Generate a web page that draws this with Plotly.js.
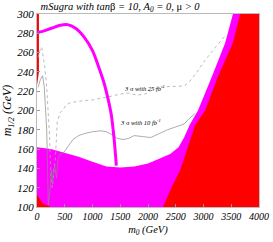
<!DOCTYPE html>
<html>
<head>
<meta charset="utf-8">
<script src="https://cdn.plot.ly/plotly-3.0.1.min.js"></script>
<style>html,body{margin:0;padding:0;background:#fff;}#chart{width:273px;height:242px;}</style>
</head>
<body>
<div id="chart"></div>
<script>
// Magenta region (lower band + thin band along the red edge)
const magentaRegionX = [0, 0, 250, 500, 750, 1000, 1250, 1500, 1750, 2000, 2200, 2400, 2550, 2650, 2750, 2850, 2900, 3150, 3390, 3530, 4000, 4000];
const magentaRegionY = [100, 162, 160, 156, 152, 147, 142, 141, 142, 145, 150, 155, 162, 172, 185, 195, 200, 235, 270, 300, 300, 100];
// Red region (right)
const redRegionX = [2270, 2430, 2580, 2700, 2850, 3030, 3260, 3530, 3660, 4000, 4000];
const redRegionY = [100, 121, 138, 160, 185, 200, 235, 270, 300, 300, 100];
// Small red corner at bottom-left
const redCornerX = [0, 0, 100, 250];
const redCornerY = [100, 113, 104, 100];
// Red strip along left edge
const redStripX = [0, 0, 35, 35];
const redStripY = [226, 300, 300, 240];
// Thick magenta curve
const magentaCurveX = [0, 100, 250, 400, 550, 700, 850, 1000, 1100, 1200, 1280, 1340, 1390, 1430];
const magentaCurveY = [281, 282, 285, 288, 289, 285, 276, 262, 247, 230, 212, 195, 170, 143];
// 3 sigma with 25 fb^-1 (dotted)
const sig25X = [20, 50, 85, 110, 140, 170, 190, 210, 225, 240, 255, 275, 300, 330, 366, 420, 470, 530, 600, 700, 800, 1000, 1200, 1350, 1500, 1650, 1800, 1950, 2100, 2250, 2400, 2550, 2667, 2780, 2883, 3027, 3207, 3333, 3400];
const sig25Y = [255, 262, 266, 258, 245, 228, 211, 192, 175, 150, 128, 120, 135, 150, 188, 198, 201, 206, 208, 209, 210, 211, 213, 215, 217, 218, 216, 217, 222, 224, 225, 225, 226, 232, 240, 252, 265, 273, 278];
// 3 sigma with 10 fb^-1 (solid)
const sig10X = [20, 60, 100, 130, 150, 175, 190, 204, 230, 260, 280, 300, 324, 350, 380, 420, 474, 550, 650, 750, 850, 1000, 1150, 1250, 1350, 1450, 1550, 1650, 1750, 1900, 2050, 2200, 2350, 2500, 2650, 2750, 2850];
const sig10Y = [224, 232, 236, 225, 205, 180, 140, 102, 115, 138, 125, 140, 142, 130, 150, 155, 156, 162, 170, 174, 176, 178, 179, 178, 175, 171, 170, 171, 174, 173, 172, 176, 180, 183, 186, 192, 197];
const xTicks = [0, 500, 1000, 1500, 2000, 2500, 3000, 3500, 4000];
const yTicks = [100, 120, 140, 160, 180, 200, 220, 240, 260, 280, 300];

const serif = 'Liberation Serif, Times New Roman, serif';

const traces = [
  {x: magentaRegionX, y: magentaRegionY, type: 'scatter', mode: 'lines', fill: 'toself', fillcolor: '#ff00ff', line: {width: 0, color: '#ff00ff'}, hoverinfo: 'skip'},
  {x: redRegionX, y: redRegionY, type: 'scatter', mode: 'lines', fill: 'toself', fillcolor: '#ff0000', line: {width: 0, color: '#ff0000'}, hoverinfo: 'skip'},
  {x: redCornerX, y: redCornerY, type: 'scatter', mode: 'lines', fill: 'toself', fillcolor: '#ff0000', line: {width: 0, color: '#ff0000'}, hoverinfo: 'skip'},
  {x: redStripX, y: redStripY, type: 'scatter', mode: 'lines', fill: 'toself', fillcolor: '#ff0000', line: {width: 0, color: '#ff0000'}, hoverinfo: 'skip'},
  {x: sig25X, y: sig25Y, type: 'scatter', mode: 'lines', line: {width: 0.8, color: '#a8a8a8', dash: 'dot'}, hoverinfo: 'skip'},
  {x: sig10X, y: sig10Y, type: 'scatter', mode: 'lines', line: {width: 0.7, color: '#8a8a8a'}, hoverinfo: 'skip'},
  {x: magentaCurveX, y: magentaCurveY, type: 'scatter', mode: 'lines', line: {width: 3, color: '#ff00ff', shape: 'spline', smoothing: 0.8}, hoverinfo: 'skip'}
];

const layout = {
  width: 273, height: 242,
  margin: {l: 37, r: 14, t: 14, b: 35},
  paper_bgcolor: '#ffffff', plot_bgcolor: '#ffffff',
  showlegend: false,
  title: {text: '<i>mSugra with tan</i>β<i> = 10, A<sub>0</sub> = 0, </i>μ<i> > 0</i>', font: {family: serif, size: 10.5, color: '#000'}, x: 0.44, xanchor: 'center', y: 0.975, yanchor: 'middle'},
  xaxis: {
    range: [0, 4000], tickvals: xTicks, ticktext: xTicks.map(v => '<i>' + v + '</i>'),
    ticks: 'inside', ticklen: 3, tickcolor: '#999', showgrid: false, zeroline: false,
    showline: true, linecolor: '#bbb', linewidth: 1, mirror: true,
    tickfont: {family: serif, size: 10, color: '#000'},
    title: {text: '<i>m<sub>0</sub> (GeV)</i>', font: {family: serif, size: 10.5, color: '#000'}, standoff: 4}
  },
  yaxis: {
    range: [100, 300], tickvals: yTicks, ticktext: yTicks.map(v => '<i>' + v + '</i>'),
    ticks: 'inside', ticklen: 3, tickcolor: '#999', showgrid: false, zeroline: false,
    showline: true, linecolor: '#bbb', linewidth: 1, mirror: true,
    tickfont: {family: serif, size: 11, color: '#000'},
    title: {text: '<i>m<sub>1/2</sub> (GeV)</i>', font: {family: serif, size: 12, color: '#000'}, standoff: 2}
  },
  annotations: [
    {x: 1928, y: 223, xref: 'x', yref: 'y', text: '<i>3 </i>σ<i> with 25 fb<sup>-1</sup></i>', showarrow: false, font: {family: serif, size: 6.5, color: '#000'}},
    {x: 1856, y: 188, xref: 'x', yref: 'y', text: '<i>3 </i>σ<i> with 10 fb<sup>-1</sup></i>', showarrow: false, font: {family: serif, size: 6.5, color: '#000'}}
  ]
};

Plotly.newPlot('chart', traces, layout, {staticPlot: true, displayModeBar: false});
</script>
</body>
</html>
